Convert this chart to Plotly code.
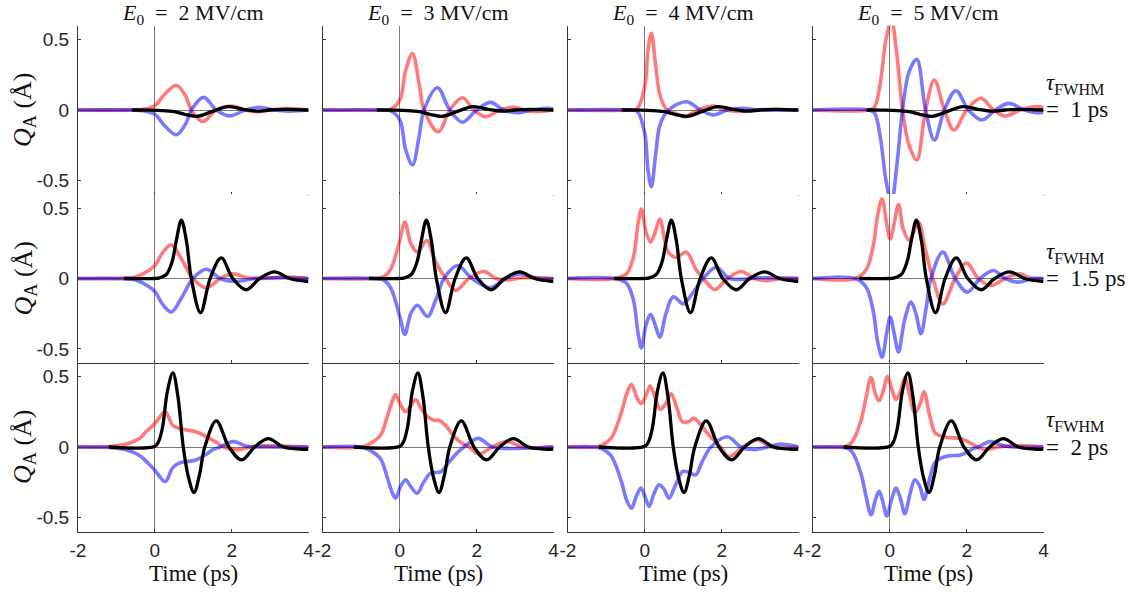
import plotly.graph_objects as go

W, H = 1138, 594

# ---------------- data ----------------
E0_LABELS = ["2", "3", "4", "5"]
TAU_LABELS = ["1", "1.5", "2"]
X_TICKS = [-2, 0, 2, 4]
X_TICK_LABELS = ["-2", "0", "2", "4"]
Y_TICKS = [-0.5, 0, 0.5]
Y_TICK_LABELS = ["-0.5", "0", "0.5"]

# black curves (same in every column of a row)
T_BLACK_1 = [-0.6, -0.2, 0.2, 0.5, 0.8, 1.1, 1.5, 1.9, 2.3, 2.65, 3.0, 3.4, 4]
Q_BLACK_1 = [0, -0.001, -0.004, -0.012, -0.032, -0.045, -0.01, 0.024, 0.005, -0.008, 0.0, 0.005, 0]
T_BLACK_2 = [-0.8, 0.0, 0.1, 0.3, 0.45, 0.56, 0.69, 0.82, 0.95, 1.19, 1.44, 1.73, 2.03, 2.38, 2.73, 3.12, 3.51, 3.95, 4]
Q_BLACK_2 = [0, 0.0, 0.003, 0.03, 0.12, 0.27, 0.415, 0.27, 0.0, -0.243, 0.0, 0.146, 0.0, -0.08, 0.0, 0.047, 0.0, -0.02, -0.02]
T_BLACK_3 = [-1.2, 0.0, 0.1, 0.2, 0.33, 0.47, 0.6, 0.74, 0.88, 1.02, 1.16, 1.3, 1.6, 1.93, 2.26, 2.6, 2.95, 3.35, 3.85, 4]
Q_BLACK_3 = [0, 0.005, 0.04, 0.14, 0.4, 0.526, 0.36, 0.0, -0.22, -0.323, -0.2, 0.0, 0.186, 0.0, -0.092, 0.0, 0.059, 0.0, -0.017, -0.015]

# row 1 (tau = 1 ps)
T_RED_11 = [-2, -0.6, -0.3, 0, 0.25, 0.56, 0.8, 0.95, 1.25, 1.6, 2.03, 2.35, 2.65, 3.0, 3.4, 4]
Q_RED_11 = [0, 0, 0.005, 0.03, 0.11, 0.176, 0.1, 0.0, -0.082, 0.0, 0.028, 0.0, -0.012, 0.0, 0.01, 0]
T_BLUE_11 = [-2, -0.6, -0.3, 0, 0.25, 0.56, 0.8, 0.95, 1.27, 1.6, 1.95, 2.35, 2.73, 3.1, 3.5, 4]
Q_BLUE_11 = [0, 0, -0.005, -0.03, -0.11, -0.176, -0.1, 0.0, 0.09, 0.0, -0.042, 0.0, 0.02, 0.0, -0.008, 0]

T_RED_12 = [-2, -0.5, -0.25, 0, 0.15, 0.33, 0.5, 0.63, 1.0, 1.3, 1.63, 1.93, 2.23, 2.6, 2.97, 3.25, 3.5, 4]
Q_RED_12 = [0, 0, 0.005, 0.07, 0.28, 0.40, 0.19, 0.0, -0.154, 0.0, 0.087, 0.0, -0.047, 0.0, 0.019, 0.0, -0.012, 0]
T_BLUE_12 = [-2, -0.5, -0.25, 0, 0.15, 0.33, 0.5, 0.63, 0.98, 1.3, 1.63, 2.0, 2.36, 2.7, 3.04, 3.45, 3.84, 4]
Q_BLUE_12 = [0, 0, -0.005, -0.07, -0.28, -0.39, -0.19, 0.0, 0.158, 0.0, -0.087, 0.0, 0.054, 0.0, -0.019, 0.0, 0.012, 0.005]

T_RED_13 = [-2, -0.45, -0.2, 0, 0.08, 0.17, 0.28, 0.4, 0.58, 0.8, 1.04, 1.4, 1.78, 2.1, 2.47, 2.85, 3.25, 4]
Q_RED_13 = [0, 0, 0.01, 0.17, 0.42, 0.544, 0.32, 0.1, 0.0, -0.025, -0.047, 0.0, 0.028, 0.0, -0.01, 0.0, 0.005, 0]
T_BLUE_13 = [-2, -0.45, -0.2, 0, 0.08, 0.17, 0.28, 0.4, 0.62, 1.09, 1.45, 1.78, 2.15, 2.55, 2.95, 4]
Q_BLUE_13 = [0, 0, -0.01, -0.17, -0.42, -0.544, -0.32, -0.1, 0.0, 0.059, 0.0, -0.035, 0.0, 0.012, 0.0, 0]

T_RED_14 = [-2, -0.55, -0.4, -0.25, -0.1, 0.04, 0.18, 0.33, 0.5, 0.7, 0.93, 1.16, 1.42, 1.67, 2.0, 2.37, 2.7, 3.0, 3.4, 3.86, 4]
Q_RED_14 = [0, 0, 0.02, 0.19, 0.5, 0.64, 0.4, 0.0, -0.25, -0.355, 0.0, 0.213, 0.0, -0.142, 0.0, 0.083, 0.0, -0.043, 0.0, 0.024, 0.015]
T_BLUE_14 = [-2, -0.55, -0.4, -0.25, -0.1, 0.04, 0.18, 0.33, 0.5, 0.7, 0.93, 1.16, 1.42, 1.72, 2.05, 2.4, 2.75, 3.1, 3.5, 3.9, 4]
Q_BLUE_14 = [0, 0, -0.02, -0.19, -0.5, -0.66, -0.4, 0.0, 0.27, 0.36, 0.0, -0.213, 0.0, 0.137, 0.0, -0.071, 0.0, 0.047, 0.0, -0.02, -0.015]

# row 2 (tau = 1.5 ps)
T_RED_21 = [-2, -0.9, -0.5, -0.23, 0.0, 0.21, 0.43, 0.69, 0.99, 1.34, 1.7, 2.03, 2.4, 2.8, 3.4, 4]
Q_RED_21 = [0, 0, 0.01, 0.045, 0.092, 0.186, 0.24, 0.14, 0.0, -0.066, 0.0, 0.033, 0.005, 0.0, 0.01, 0.0]
T_BLUE_21 = [-2, -0.9, -0.5, -0.23, 0.0, 0.21, 0.43, 0.69, 0.99, 1.34, 1.7, 2.1, 2.6, 3.2, 4]
Q_BLUE_21 = [0, 0, -0.01, -0.045, -0.092, -0.186, -0.238, -0.14, 0.0, 0.066, 0.0, -0.02, 0.0, 0.005, 0]

T_RED_22 = [-2, -0.7, -0.4, -0.23, 0.0, 0.13, 0.29, 0.46, 0.7, 0.93, 1.19, 1.45, 1.8, 2.19, 2.5, 2.8, 3.2, 4]
Q_RED_22 = [0, 0, 0.015, 0.07, 0.27, 0.40, 0.246, 0.187, 0.27, 0.12, 0.0, -0.085, 0.0, 0.05, 0.0, -0.01, 0.005, 0]
T_BLUE_22 = [-2, -0.7, -0.4, -0.23, 0.0, 0.13, 0.29, 0.46, 0.72, 0.93, 1.15, 1.5, 1.88, 2.36, 2.75, 3.14, 3.6, 4]
Q_BLUE_22 = [0, 0, -0.015, -0.07, -0.27, -0.397, -0.246, -0.19, -0.27, -0.156, 0.0, 0.092, 0.0, -0.065, 0.0, 0.033, 0.0, 0.0]

T_RED_23 = [-2, -0.8, -0.48, -0.3, -0.17, -0.09, 0.03, 0.15, 0.27, 0.39, 0.5, 0.61, 0.82, 1.08, 1.34, 1.52, 1.82, 2.15, 2.51, 2.85, 3.16, 3.6, 4]
Q_RED_23 = [0, 0, 0.033, 0.15, 0.4, 0.494, 0.33, 0.258, 0.33, 0.423, 0.3, 0.187, 0.15, 0.187, 0.06, 0.0, -0.078, 0.0, 0.05, 0.0, -0.015, 0.0, 0]
T_BLUE_23 = [-2, -0.8, -0.48, -0.3, -0.17, -0.09, 0.03, 0.15, 0.27, 0.39, 0.55, 0.74, 1.0, 1.2, 1.52, 1.86, 2.2, 2.6, 3.0, 4]
Q_BLUE_23 = [0, 0, -0.033, -0.15, -0.4, -0.492, -0.33, -0.255, -0.33, -0.416, -0.25, -0.13, -0.18, -0.12, 0.0, 0.08, 0.0, -0.005, 0.005, 0]

T_RED_24 = [-2, -0.9, -0.62, -0.44, -0.31, -0.2, -0.09, 0.01, 0.12, 0.225, 0.35, 0.5, 0.62, 0.75, 0.93, 1.12, 1.38, 1.7, 2.0, 2.3, 2.63, 3.0, 3.37, 3.7, 4]
Q_RED_24 = [0, 0, 0.06, 0.22, 0.46, 0.565, 0.4, 0.28, 0.4, 0.525, 0.35, 0.27, 0.33, 0.40, 0.2, 0.0, -0.18, 0.0, 0.109, 0.0, -0.05, 0.0, 0.033, 0.0, 0]
T_BLUE_24 = [-2, -0.9, -0.62, -0.44, -0.31, -0.2, -0.09, 0.01, 0.12, 0.225, 0.38, 0.55, 0.68, 0.81, 0.95, 1.07, 1.38, 1.7, 2.02, 2.35, 2.7, 3.0, 3.35, 3.7, 4]
Q_BLUE_24 = [0, 0, -0.06, -0.22, -0.46, -0.558, -0.4, -0.274, -0.4, -0.522, -0.3, -0.168, -0.25, -0.392, -0.2, 0.0, 0.187, 0.0, -0.097, 0.0, 0.057, 0.0, -0.026, 0.0, 0]

# row 3 (tau = 2 ps)
T_RED_31 = [-2, -1.1, -0.67, -0.4, -0.23, 0.0, 0.27, 0.46, 0.63, 1.07, 1.5, 1.8, 2.1, 2.5, 2.8, 4]
Q_RED_31 = [0, 0.005, 0.026, 0.06, 0.108, 0.167, 0.25, 0.155, 0.132, 0.108, 0.05, 0.0, -0.02, 0.0, 0.008, 0]
T_BLUE_31 = [-2, -1.1, -0.67, -0.4, -0.23, 0.0, 0.27, 0.46, 0.63, 1.07, 1.35, 1.5, 1.7, 2.04, 2.4, 3.0, 4]
Q_BLUE_31 = [0, -0.005, -0.026, -0.06, -0.1, -0.165, -0.245, -0.15, -0.115, -0.092, -0.05, -0.02, 0.0, 0.038, 0.005, 0.0, 0]

T_RED_32 = [-2, -1.0, -0.76, -0.5, -0.33, -0.19, -0.11, 0.02, 0.15, 0.28, 0.41, 0.56, 0.72, 0.88, 1.02, 1.2, 1.42, 1.6, 1.8, 2.06, 2.4, 2.8, 3.2, 4]
Q_RED_32 = [0, 0, 0.026, 0.085, 0.215, 0.33, 0.373, 0.3, 0.25, 0.29, 0.337, 0.27, 0.215, 0.19, 0.19, 0.15, 0.073, 0.03, 0.0, -0.05, 0.0, 0.038, 0.0, 0]
T_BLUE_32 = [-2, -1.0, -0.76, -0.5, -0.33, -0.19, -0.11, 0.02, 0.15, 0.28, 0.45, 0.62, 0.8, 1.07, 1.3, 1.5, 1.67, 2.04, 2.4, 2.8, 4]
Q_BLUE_32 = [0, 0, -0.026, -0.085, -0.215, -0.33, -0.363, -0.28, -0.233, -0.28, -0.328, -0.25, -0.186, -0.175, -0.1, -0.04, 0.0, 0.061, 0.0, -0.01, 0]

T_RED_33 = [-2, -1.32, -1.1, -0.88, -0.62, -0.47, -0.35, -0.22, -0.1, 0.02, 0.14, 0.27, 0.4, 0.55, 0.68, 0.83, 0.98, 1.13, 1.28, 1.45, 1.63, 1.97, 2.19, 2.55, 2.93, 3.3, 4]
Q_RED_33 = [0, 0, 0.015, 0.061, 0.237, 0.38, 0.446, 0.36, 0.309, 0.36, 0.432, 0.35, 0.267, 0.31, 0.38, 0.28, 0.179, 0.18, 0.203, 0.16, 0.097, 0.0, -0.068, 0.0, 0.05, 0.0, 0]
T_BLUE_33 = [-2, -1.32, -1.1, -0.88, -0.62, -0.47, -0.35, -0.22, -0.1, 0.0, 0.11, 0.24, 0.37, 0.5, 0.63, 0.8, 0.98, 1.15, 1.32, 1.5, 1.72, 2.15, 2.5, 2.84, 3.2, 3.5, 4]
Q_BLUE_33 = [0, 0, -0.015, -0.061, -0.237, -0.38, -0.434, -0.35, -0.292, -0.35, -0.422, -0.33, -0.268, -0.3, -0.363, -0.27, -0.175, -0.18, -0.198, -0.1, 0.0, 0.073, 0.0, -0.017, 0.0, 0.02, 0]

T_RED_34 = [-2, -1.3, -1.1, -0.97, -0.75, -0.62, -0.49, -0.38, -0.28, -0.17, -0.06, 0.05, 0.16, 0.28, 0.39, 0.52, 0.65, 0.78, 0.89, 1.04, 1.19, 1.5, 1.84, 2.05, 2.28, 2.49, 2.8, 3.3, 4]
Q_RED_34 = [0, 0, 0.01, 0.04, 0.19, 0.35, 0.494, 0.38, 0.328, 0.4, 0.5, 0.41, 0.338, 0.4, 0.494, 0.36, 0.244, 0.3, 0.392, 0.22, 0.097, 0.068, 0.061, 0.035, 0.0, -0.02, 0.0, 0.01, 0]
T_BLUE_34 = [-2, -1.3, -1.1, -0.97, -0.75, -0.62, -0.49, -0.38, -0.28, -0.18, -0.08, 0.04, 0.16, 0.28, 0.39, 0.52, 0.65, 0.78, 0.89, 1.04, 1.19, 1.5, 1.84, 2.19, 2.3, 2.62, 3.0, 4]
Q_BLUE_34 = [0, 0, -0.01, -0.04, -0.19, -0.35, -0.481, -0.38, -0.315, -0.39, -0.489, -0.38, -0.292, -0.37, -0.474, -0.34, -0.233, -0.28, -0.373, -0.22, -0.104, -0.064, -0.057, -0.01, 0.0, 0.038, 0.005, 0]

BLACK = {1: (T_BLACK_1, Q_BLACK_1), 2: (T_BLACK_2, Q_BLACK_2), 3: (T_BLACK_3, Q_BLACK_3)}
PANELS = {
    (1, 1): (T_RED_11, Q_RED_11, T_BLUE_11, Q_BLUE_11),
    (1, 2): (T_RED_12, Q_RED_12, T_BLUE_12, Q_BLUE_12),
    (1, 3): (T_RED_13, Q_RED_13, T_BLUE_13, Q_BLUE_13),
    (1, 4): (T_RED_14, Q_RED_14, T_BLUE_14, Q_BLUE_14),
    (2, 1): (T_RED_21, Q_RED_21, T_BLUE_21, Q_BLUE_21),
    (2, 2): (T_RED_22, Q_RED_22, T_BLUE_22, Q_BLUE_22),
    (2, 3): (T_RED_23, Q_RED_23, T_BLUE_23, Q_BLUE_23),
    (2, 4): (T_RED_24, Q_RED_24, T_BLUE_24, Q_BLUE_24),
    (3, 1): (T_RED_31, Q_RED_31, T_BLUE_31, Q_BLUE_31),
    (3, 2): (T_RED_32, Q_RED_32, T_BLUE_32, Q_BLUE_32),
    (3, 3): (T_RED_33, Q_RED_33, T_BLUE_33, Q_BLUE_33),
    (3, 4): (T_RED_34, Q_RED_34, T_BLUE_34, Q_BLUE_34),
}

# ---------------- layout geometry (window pixels) ----------------
COL_X0 = [78, 323, 568, 813]
COL_W = 230.5
ROW_TOP = [25.5, 194.0, 362.5]
ROW_H = 169.0


def px(x):
    return x / W


def py(y):
    return 1 - y / H


RED = "rgba(255,0,0,0.52)"
BLUE = "rgba(0,0,255,0.52)"
BLACKC = "#000000"
AXC = "#3a3a3a"
ZC = "#7a7a7a"
SERIF = "Liberation Serif, 'Times New Roman', serif"
SANS = "Liberation Sans, Arial, sans-serif"
ENSP = "\u2002"

fig = go.Figure()
layout = dict(
    width=W, height=H, margin=dict(l=0, r=0, t=0, b=0, autoexpand=False),
    paper_bgcolor="white", plot_bgcolor="white", showlegend=False,
)

for r in range(1, 4):
    for c in range(1, 5):
        k = (r - 1) * 4 + c
        xs = "x" if k == 1 else f"x{k}"
        ys = "y" if k == 1 else f"y{k}"
        x0 = COL_X0[c - 1]
        top = ROW_TOP[r - 1]
        layout["xaxis" if k == 1 else f"xaxis{k}"] = dict(
            domain=[px(x0), px(x0 + COL_W)], range=[-2, 4], anchor=ys,
            automargin=False,
            showline=True, linecolor=AXC, linewidth=1, mirror=False,
            ticks="inside", ticklen=3, tickcolor=AXC,
            tickvals=X_TICKS, ticktext=X_TICK_LABELS, showticklabels=(r == 3),
            tickfont=dict(family=SANS, size=19, color="#262626"),
            ticklabelstandoff=2,
            zeroline=True, zerolinecolor=ZC, zerolinewidth=1, showgrid=False,
        )
        layout["yaxis" if k == 1 else f"yaxis{k}"] = dict(
            domain=[py(top + ROW_H), py(top)], range=[-0.6, 0.6], anchor=xs,
            automargin=False,
            showline=True, linecolor=AXC, linewidth=1,
            ticks="inside", ticklen=3, tickcolor=AXC,
            tickvals=Y_TICKS, ticktext=Y_TICK_LABELS, showticklabels=(c == 1),
            tickfont=dict(family=SANS, size=19, color="#262626"),
            ticklabelstandoff=4,
            zeroline=True, zerolinecolor=ZC, zerolinewidth=1, showgrid=False,
        )
        tr, qr, tb, qb = PANELS[(r, c)]
        tk, qk = BLACK[r]
        fig.add_trace(go.Scatter(x=tr, y=qr, mode="lines", xaxis=xs, yaxis=ys,
                                 line=dict(color=RED, width=3.6, shape="spline", smoothing=1.0)))
        fig.add_trace(go.Scatter(x=tb, y=qb, mode="lines", xaxis=xs, yaxis=ys,
                                 line=dict(color=BLUE, width=3.6, shape="spline", smoothing=1.0)))
        fig.add_trace(go.Scatter(x=tk, y=qk, mode="lines", xaxis=xs, yaxis=ys,
                                 line=dict(color=BLACKC, width=3.3, shape="spline", smoothing=1.0)))

ann = []
for c in range(4):
    cx = px(COL_X0[c] + COL_W / 2)
    ann.append(dict(x=cx, y=py(14), xref="paper", yref="paper", showarrow=False,
                    text=f"<i>E</i><sub>0</sub>{ENSP}={ENSP}{E0_LABELS[c]} MV/cm",
                    font=dict(family=SERIF, size=22, color="#111"), xanchor="center", yanchor="middle"))
    ann.append(dict(x=cx, y=py(573), xref="paper", yref="paper", showarrow=False,
                    text="Time (ps)", font=dict(family=SERIF, size=23, color="#111"),
                    xanchor="center", yanchor="middle"))
for r in range(3):
    zy = ROW_TOP[r] + ROW_H / 2
    ann.append(dict(x=px(24), y=py(zy), xref="paper", yref="paper", showarrow=False,
                    text="<i>Q</i><sub>A</sub> (Å)", textangle=-90,
                    font=dict(family=SERIF, size=26, color="#111"), xanchor="center", yanchor="middle"))
    ann.append(dict(x=px(1044), y=py(zy - 26), xref="paper", yref="paper", showarrow=False,
                    text="<i>τ</i><sub>FWHM</sub>",
                    font=dict(family=SERIF, size=23, color="#111"), xanchor="left", yanchor="middle"))
    ann.append(dict(x=px(1044), y=py(zy), xref="paper", yref="paper", showarrow=False,
                    text=f"={ENSP}{TAU_LABELS[r]} ps",
                    font=dict(family=SERIF, size=23, color="#111"), xanchor="left", yanchor="middle"))
layout["annotations"] = ann
fig.update_layout(**layout)
# remove the browser's default 8px page margin so the figure fills the window exactly
fig.write_html(
    "out.html",
    config={"displayModeBar": False, "staticPlot": True},
    post_script="document.body.style.margin='0px';document.body.style.overflow='hidden';",
)
